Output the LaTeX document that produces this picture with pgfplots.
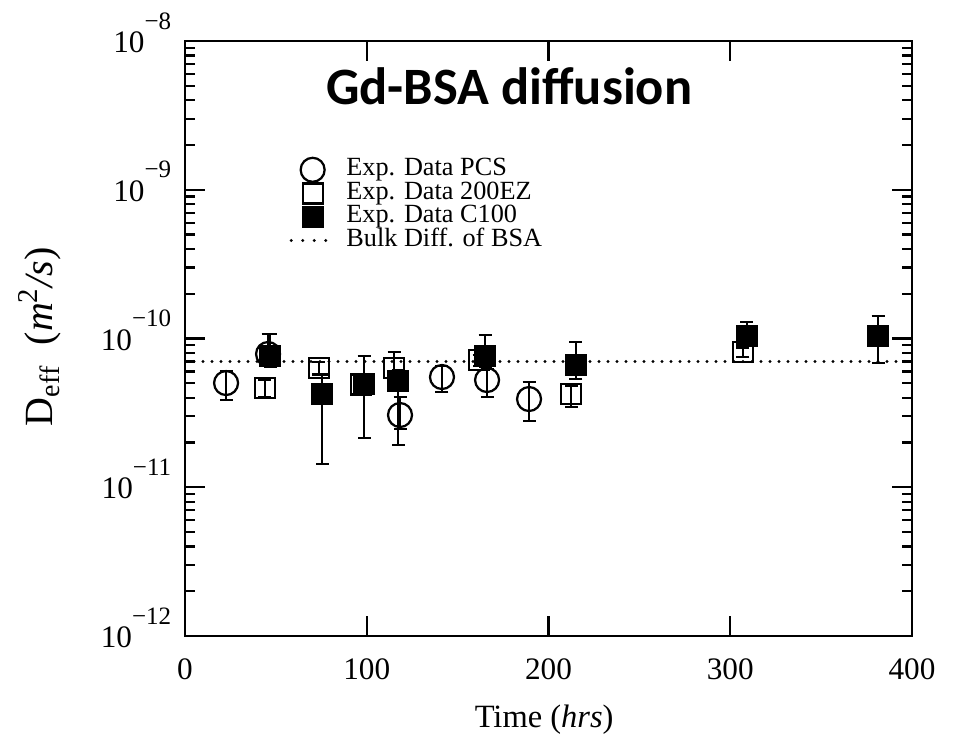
\documentclass[border=0pt]{standalone}
\usepackage{fontspec}
\setmainfont{Liberation Serif}
\newfontfamily\titlefont{Carlito}
\usepackage{pgfplots}
\pgfplotsset{compat=1.18}
\newcommand{\tenexp}[1]{10\raisebox{9.4pt}{\fontsize{10}{12}\selectfont −#1}}
\begin{document}
\begin{tikzpicture}
\useasboundingbox (-74pt,-40pt) rectangle (308pt,254.4pt);
\begin{axis}[
  scale only axis, width=290.8pt, height=238pt,
  ymode=log, xmin=0, xmax=400, ymin=1e-12, ymax=1e-8,
  xtick={0,100,200,300,400},
  ytick={1e-12,1e-11,1e-10,1e-9,1e-8},
  yticklabels={\tenexp{12},\tenexp{11},\tenexp{10},\tenexp{9},\tenexp{8}},
  minor ytick={2e-12,3e-12,4e-12,5e-12,6e-12,7e-12,8e-12,9e-12,
    2e-11,3e-11,4e-11,5e-11,6e-11,7e-11,8e-11,9e-11,
    2e-10,3e-10,4e-10,5e-10,6e-10,7e-10,8e-10,9e-10,
    2e-9,3e-9,4e-9,5e-9,6e-9,7e-9,8e-9,9e-9},
  minor xtick={},
  tick pos=both, tick align=inside,
  major tick length=8pt, minor tick length=4pt,
  axis line style={line width=1pt},
  every tick/.style={line width=0.9pt, black},
  /pgf/number format/assume math mode=true,
  tick label style={font=\fontsize{12.5}{14}\selectfont},
  xticklabel style={anchor=center, yshift=-13.2pt},
  yticklabel style={anchor=base east, yshift=-4.6pt, xshift=-2pt},
  xlabel={Time (\textit{hrs})},
  xlabel style={at={(axis description cs:0.494,-0.141)}, anchor=center, font=\fontsize{13}{15}\selectfont},
  ylabel={\fontsize{16}{18}\selectfont D\textsubscript{eff}\ \ (\textit{m}\textsuperscript{\fontsize{11.5}{13}\selectfont 2}\textit{/s})},
  ylabel style={at={(axis description cs:-0.2,0.503)}, anchor=center},
  legend style={at={(rel axis cs:0.133,0.813)}, anchor=north west, draw=none, fill=none,
    font=\fontsize{10.5}{12}\selectfont, row sep=0pt,
    nodes={inner sep=0.4pt, text height=6.6pt, text depth=2.0pt},
    /tikz/every odd column/.append style={column sep=4pt}},
  legend cell align=left,
  error bars/error bar style={line width=0.9pt, black},
  error bars/error mark options={rotate=90, mark size=2.6pt, line width=0.9pt, black},
]
\addplot[only marks, mark=o, mark size=4.8pt, mark options={line width=0.9pt, black}, black,
  error bars/.cd, y dir=both, y explicit]
  table[x=x, y=y, y error plus=ep, y error minus=em] {
x y ep em
22.6 5.02e-11 1.0e-11 1.16e-11
45.7 7.87e-11 2.8e-11 1.2e-11
118.3 3.06e-11 0.99e-11 0.6e-11
141.4 5.51e-11 1.0e-11 1.15e-11
166.2 5.26e-11 1.0e-11 1.21e-11
189.3 3.92e-11 1.18e-11 1.13e-11
};
\addlegendentry{Exp. Data PCS}
\addplot[only marks, mark=square, mark size=4pt, mark options={line width=0.9pt, black}, black,
  error bars/.cd, y dir=both, y explicit]
  table[x=x, y=y, y error plus=ep, y error minus=em] {
x y ep em
44.0 4.65e-11 0.6e-11 0.6e-11
73.7 6.34e-11 0.6e-11 0.6e-11
97.0 4.9e-11 0.5e-11 0.5e-11
115.0 6.34e-11 1.76e-11 0.8e-11
161.8 7.16e-11 0.6e-11 0.6e-11
212.4 4.23e-11 0.6e-11 0.77e-11
307.0 8.12e-11 0.6e-11 0.6e-11
};
\addlegendentry{Exp. Data 200EZ}
\addplot[only marks, mark=square*, mark size=4pt, mark options={line width=0.9pt, black, fill=black}, black,
  error bars/.cd, y dir=both, y explicit]
  table[x=x, y=y, y error plus=ep, y error minus=em] {
x y ep em
46.8 7.6e-11 3.1e-11 1.2e-11
75.4 4.23e-11 1.5e-11 2.8e-11
98.5 4.94e-11 2.69e-11 2.8e-11
117.2 5.18e-11 1.0e-11 3.26e-11
165.1 7.63e-11 2.97e-11 1.2e-11
215.1 6.64e-11 2.83e-11 1.3e-11
309.2 1.04e-10 0.25e-10 0.15e-10
381.3 1.04e-10 0.38e-10 0.356e-10
};
\addlegendentry{Exp. Data C100}
\addplot[black, line width=1.3pt, line cap=round, dash pattern=on 0pt off 3.6pt,
  legend image code/.code={\draw[black, line width=1.3pt, line cap=round, dash pattern=on 0pt off 4.6pt] (0pt,0pt) -- (17pt,0pt);}]
  coordinates {(0,7e-11) (400,7e-11)};
\addlegendentry{Bulk Diff. of BSA}
\node[anchor=base, font=\titlefont\bfseries\fontsize{21}{25}\selectfont] at (rel axis cs:0.446,0.893) {Gd-BSA diffusion};
\end{axis}
\end{tikzpicture}
\end{document}
